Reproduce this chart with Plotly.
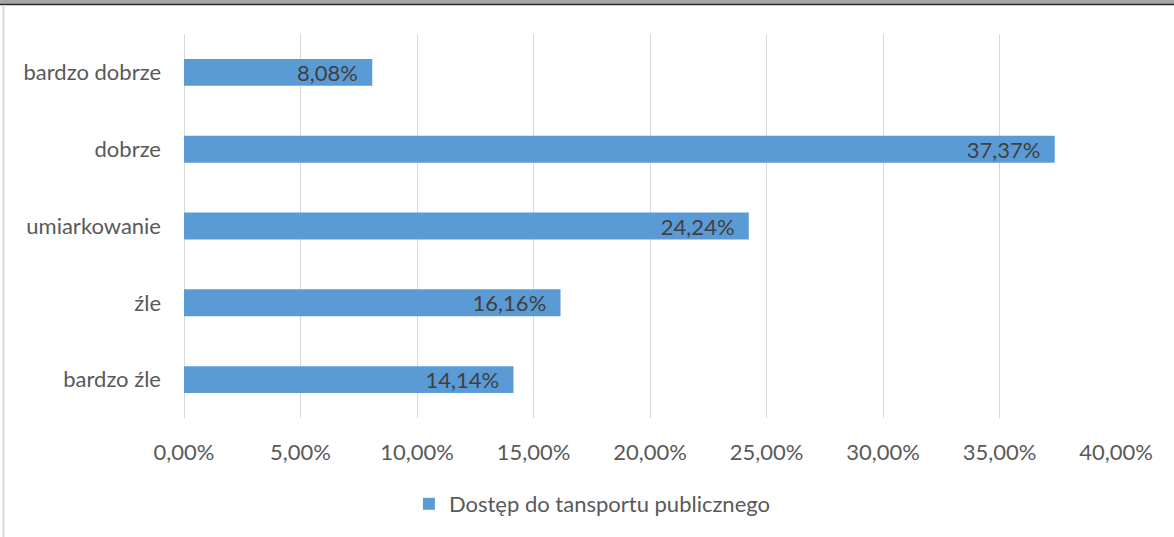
import plotly.graph_objects as go

categories = ["bardzo dobrze", "dobrze", "umiarkowanie", "źle", "bardzo źle"]
values = [8.08, 37.37, 24.24, 16.16, 14.14]
value_labels = ["8,08%", "37,37%", "24,24%", "16,16%", "14,14%"]
tick_vals = [0, 5, 10, 15, 20, 25, 30, 35, 40]
tick_text = ["0,00%", "5,00%", "10,00%", "15,00%", "20,00%", "25,00%", "30,00%", "35,00%", "40,00%"]
series_name = "Dostęp do tansportu publicznego"

FONT = "Lato, Open Sans, sans-serif"
W, H = 1174, 537
ML, MR, MT, MB = 184, 58, 34, 119
PW = W - ML - MR
PH = H - MT - MB
FS = 22

def py(p):
    return (H - MB - p) / PH

def px(p):
    return (p - ML) / PW

fig = go.Figure()
fig.add_trace(go.Bar(
    y=categories, x=values, orientation="h", name=series_name,
    marker=dict(color="#5B9BD5", line=dict(width=0)),
    text=[t + "\u00a0\u00a0" for t in value_labels],
    textposition="inside", insidetextanchor="end", constraintext="none",
    textfont=dict(family=FONT, size=FS, color="#404040"),
    width=0.35, showlegend=True, cliponaxis=False,
))

fig.update_layout(
    width=W, height=H,
    margin=dict(l=ML, r=MR, t=MT, b=MB, autoexpand=False),
    paper_bgcolor="white", plot_bgcolor="white",
    font=dict(family=FONT, size=FS, color="#595959"),
    xaxis=dict(range=[0, 40], tickvals=tick_vals, ticktext=tick_text,
               showgrid=True, gridcolor="#D9D9D9", gridwidth=1.3,
               zeroline=True, zerolinecolor="#D9D9D9", zerolinewidth=1.3,
               showline=False, ticks="", automargin=False,
               ticklabelstandoff=19,
               tickfont=dict(size=FS, color="#595959")),
    yaxis=dict(autorange="reversed", showgrid=False, zeroline=False,
               ticks="", automargin=False, ticklabelstandoff=22,
               tickfont=dict(size=FS, color="#595959")),
    legend=dict(orientation="h", xref="container", yref="container",
                x=0.5046, y=1 - 504 / H, xanchor="center", yanchor="middle",
                font=dict(size=FS, color="#595959"), itemwidth=30),
    shapes=[
        dict(type="rect", xref="paper", yref="paper", x0=px(0), x1=px(W),
             y0=py(4), y1=py(0), fillcolor="#A6A6A6", line=dict(width=0), layer="above"),
        dict(type="line", xref="paper", yref="paper", x0=px(0), x1=px(W),
             y0=py(4.5), y1=py(4.5), line=dict(color="#2b2b2b", width=1.5)),
        dict(type="line", xref="paper", yref="paper", x0=px(3.5), x1=px(3.5),
             y0=py(537), y1=py(5), line=dict(color="#D9D9D9", width=2)),
    ],
)

fig.write_html(
    "out.html",
    config={"displayModeBar": False},
    post_script="document.body.style.margin='0';document.body.style.padding='0';"
                "document.body.style.overflow='hidden';",
)
